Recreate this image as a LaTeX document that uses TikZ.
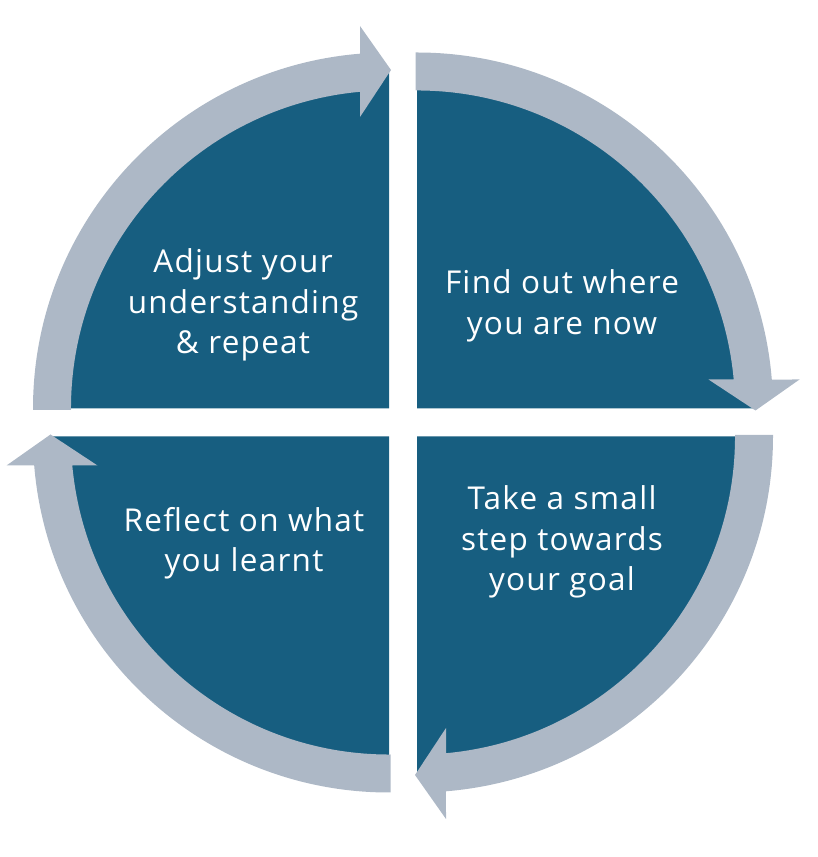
\documentclass[tikz,border=0pt]{standalone}
\usepackage{fontspec}
\setmainfont[LetterSpace=4]{Open Sans}
\definecolor{qblue}{RGB}{23,94,128}
\definecolor{agray}{RGB}{173,184,198}
\begin{document}
\begin{tikzpicture}[x=1pt,y=1pt,
  quad/.style={fill=qblue},
  arw/.style={fill=agray},
  lbl/.style={text=white, font=\fontsize{31.5}{40.5}\selectfont, align=center}]
\useasboundingbox (0,0) rectangle (818,857);
\coordinate (C) at (403,434.5);
\foreach \r in {0,-90,-180,-270}{
  \begin{scope}[shift={(C)}, rotate=\r]
    \fill[quad] (-14,14) -- (-351,14) arc[start angle=180,end angle=90,radius=337] -- cycle;
  \end{scope}
}
\foreach \r in {0,-90,-180,-270}{
  \begin{scope}[shift={(C)}, rotate=\r]
    \fill[arw] (-370,12.5) -- (-370,14) arc[start angle=180,end angle=94.67,radius=356]
      -- (-43,396.5) -- (-12,352.5) -- (-43,305.5) -- (-43,330.7)
      arc[start angle=95.23,end angle=180,radius=318] -- (-332,12.5) -- cycle;
  \end{scope}
}
\node[lbl] (tl) at (243,552) {Adjust your\\understanding\\\& repeat};
\node[lbl] (tr) at (562,551) {Find out where\\you are now};
\node[lbl] (br) at (562,315) {Take a small\\step towards\\your goal};
\node[lbl] (bl) at (244,314) {Reflect on what\\you learnt};
\end{tikzpicture}
\end{document}
